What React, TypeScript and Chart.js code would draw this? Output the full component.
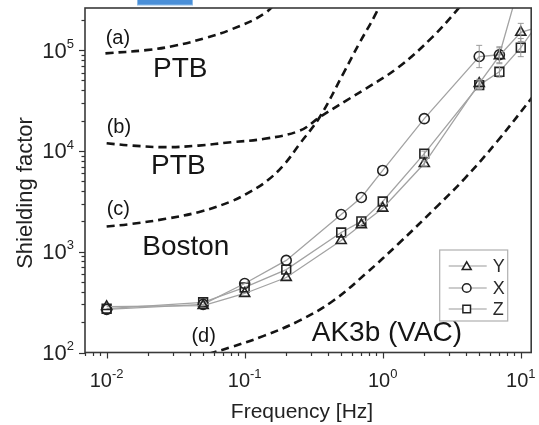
import React, { useEffect, useRef } from 'react';
import { Chart, registerables } from 'chart.js';

Chart.register(...registerables);

// ---- measured series (frequency in Hz, shielding factor) ----
const freqs = [0.01, 0.05, 0.1, 0.2, 0.5, 0.7, 1, 2, 5, 7, 10, 20];
const seriesY = [285, 292, 385, 555, 1290, 1850, 2700, 7500, 46700, 88000, 150000, 200000];
const seriesX = [268, 300, 484, 820, 2340, 3450, 6400, 20900, 86500, 90000, 500000, null];
const seriesZ = [272, 315, 442, 665, 1550, 2000, 3150, 9400, 45000, 61000, 106000, 400000];
// multiplicative error factors (0 = no error bar)
const errY = [0, 0, 0, 0, 0, 0, 0, 1.06, 1.1, 1.2, 1.23, 0];
const errX = [0, 0, 0, 0, 0, 0, 0, 0, 1.29, 1.2, 0, 0];
const errZ = [0, 0, 0, 0, 0, 0, 0, 1.06, 1.1, 1.13, 1.23, 0];

// ---- reference curves (dashed) ----
const curveAFreq = [0.0098, 0.0193, 0.0316, 0.0518, 0.0794, 0.139, 0.187];
const curveAVal = [93000, 100000, 111000, 132000, 160000, 231000, 350000];
const curveBFreq = [0.01, 0.0153, 0.0268, 0.0462, 0.0794, 0.139, 0.251, 0.349, 0.544, 0.756, 1.3, 2.28, 3.43, 3.9];
const curveBVal = [11900, 11300, 10900, 11300, 12200, 13200, 15900, 21600, 31600, 41600, 67700, 134000, 247000, 310000];
const curveCFreq = [0.01, 0.0153, 0.0268, 0.0462, 0.0794, 0.11, 0.146, 0.193, 0.251, 0.349, 0.518, 0.674, 0.891, 0.968];
const curveCVal = [1780, 1890, 2120, 2470, 3150, 3950, 5080, 7330, 11800, 21600, 58600, 116000, 230000, 310000];
const curveDFreq = [0.055, 0.0794, 0.139, 0.251, 0.44, 0.756, 1.3, 2.51, 3.92, 6.74, 12.5];
const curveDVal = [97, 113, 147, 208, 328, 608, 1200, 2870, 5320, 12400, 36000];

// ---- axes ----
const X_MIN = 0.00697;
const X_MAX = 11.9;
const Y_MIN = 100;
const Y_MAX = 262000;
const xTickExps = [-2, -1, 0, 1];
const yTickExps = [2, 3, 4, 5];
const xTitle = 'Frequency [Hz]';
const yTitle = 'Shielding factor';

// ---- annotations (anchored in data space: left edge, vertical middle) ----
const annotationTexts = ['(a)', 'PTB', '(b)', 'PTB', '(c)', 'Boston', '(d)', 'AK3b (VAC)'];
const annotationFreq = [0.00984, 0.0217, 0.01, 0.021, 0.01, 0.0181, 0.0411, 0.306];
const annotationValue = [131800, 64300, 17100, 7000, 2630, 1100, 144, 154];
const annotationSize = [20, 28, 20, 28, 20, 28, 20, 28];

const legendLabels = ['Y', 'X', 'Z'];
const legendStyles = ['triangle', 'circle', 'rect'];

const FONT = '"Liberation Sans", Arial, Helvetica, sans-serif';

function drawMarker(ctx: CanvasRenderingContext2D, style: string, x: number, y: number, r: number) {
  ctx.beginPath();
  if (style === 'triangle') {
    const h = Math.sin(Math.PI / 3) * r;
    ctx.moveTo(x, y - r);
    ctx.lineTo(x + h, y + r / 2);
    ctx.lineTo(x - h, y + r / 2);
    ctx.closePath();
  } else if (style === 'circle') {
    ctx.arc(x, y, r, 0, Math.PI * 2);
  } else {
    ctx.rect(x - r, y - r, 2 * r, 2 * r);
  }
  ctx.fill();
  ctx.stroke();
}

function drawPow(
  ctx: CanvasRenderingContext2D,
  exp: number,
  x: number,
  baseline: number,
  align: 'center' | 'right',
  size: number,
  supSize: number
) {
  const base = '10';
  const e = exp < 0 ? '-' + Math.abs(exp) : String(exp);
  ctx.font = `${size}px ${FONT}`;
  const wb = ctx.measureText(base).width;
  ctx.font = `${supSize}px ${FONT}`;
  const we = ctx.measureText(e).width;
  const total = wb + we;
  const start = align === 'center' ? x - total / 2 : x - total;
  ctx.textAlign = 'left';
  ctx.textBaseline = 'alphabetic';
  ctx.font = `${size}px ${FONT}`;
  ctx.fillText(base, start, baseline);
  ctx.font = `${supSize}px ${FONT}`;
  ctx.fillText(e, start + wb, baseline - size * 0.45);
}

const decorPlugin = {
  id: 'decor',
  afterDatasetsDraw(chart: any) {
    const ctx: CanvasRenderingContext2D = chart.ctx;
    const xs = chart.scales.x;
    const ys = chart.scales.y;
    const ca = chart.chartArea;
    // error bars
    ctx.save();
    ctx.beginPath();
    ctx.rect(ca.left, ca.top, ca.right - ca.left, ca.bottom - ca.top);
    ctx.clip();
    ctx.strokeStyle = '#9a9a9a';
    ctx.lineWidth = 1;
    const sets = [
      [seriesY, errY],
      [seriesX, errX],
      [seriesZ, errZ],
    ] as const;
    sets.forEach(([vals, errs]) => {
      vals.forEach((v, i) => {
        const f = errs[i];
        if (!v || !f) return;
        const px = xs.getPixelForValue(freqs[i]);
        const top = ys.getPixelForValue(v * f);
        const bot = ys.getPixelForValue(v / f);
        ctx.beginPath();
        ctx.moveTo(px, top);
        ctx.lineTo(px, bot);
        ctx.moveTo(px - 3, top);
        ctx.lineTo(px + 3, top);
        ctx.moveTo(px - 3, bot);
        ctx.lineTo(px + 3, bot);
        ctx.stroke();
      });
    });
    ctx.restore();
  },
  afterDraw(chart: any) {
    const ctx: CanvasRenderingContext2D = chart.ctx;
    const xs = chart.scales.x;
    const ys = chart.scales.y;
    const ca = chart.chartArea;
    ctx.save();

    // blue tab at the top
    ctx.fillStyle = '#4a8fd8';
    ctx.fillRect(137, 0, 56, 5);
    ctx.strokeStyle = '#8dbbe8';
    ctx.lineWidth = 1;
    ctx.strokeRect(137.5, -1, 55, 6);

    // frame
    ctx.strokeStyle = '#3a3a3a';
    ctx.lineWidth = 1.6;
    ctx.strokeRect(ca.left, ca.top, ca.right - ca.left, ca.bottom - ca.top);

    // ticks
    ctx.lineWidth = 1.2;
    ctx.strokeStyle = '#333';
    for (let e = -3; e <= 2; e++) {
      for (let m = 1; m <= 9; m++) {
        const v = m * Math.pow(10, e);
        if (v < X_MIN || v > X_MAX) continue;
        const px = Math.round(xs.getPixelForValue(v)) + 0.5;
        ctx.beginPath();
        ctx.moveTo(px, ca.bottom);
        ctx.lineTo(px, ca.bottom + (m === 1 ? 6 : 3.5));
        ctx.stroke();
      }
    }
    for (let e = 1; e <= 6; e++) {
      for (let m = 1; m <= 9; m++) {
        const v = m * Math.pow(10, e);
        if (v < Y_MIN || v > Y_MAX) continue;
        const py = Math.round(ys.getPixelForValue(v)) + 0.5;
        ctx.beginPath();
        ctx.moveTo(ca.left, py);
        ctx.lineTo(ca.left - (m === 1 ? 6 : 3.5), py);
        ctx.stroke();
      }
    }

    // tick labels
    ctx.fillStyle = '#222';
    xTickExps.forEach((e) => {
      const px = xs.getPixelForValue(Math.pow(10, e));
      drawPow(ctx, e, px, ca.bottom + 34.5, 'center', 20, 13);
    });
    yTickExps.forEach((e) => {
      const py = ys.getPixelForValue(Math.pow(10, e));
      drawPow(ctx, e, ca.left - 11, py + 7.5, 'right', 22, 13);
    });

    // axis titles
    ctx.fillStyle = '#222';
    ctx.font = `21px ${FONT}`;
    ctx.textAlign = 'center';
    ctx.textBaseline = 'alphabetic';
    ctx.fillText(xTitle, 302, 418);
    ctx.font = `22px ${FONT}`;
    ctx.save();
    ctx.translate(32, 193);
    ctx.rotate(-Math.PI / 2);
    ctx.fillText(yTitle, 0, 0);
    ctx.restore();

    // annotations
    ctx.fillStyle = '#151515';
    ctx.textAlign = 'left';
    ctx.textBaseline = 'middle';
    annotationTexts.forEach((t, i) => {
      ctx.font = `${annotationSize[i]}px ${FONT}`;
      ctx.fillText(t, xs.getPixelForValue(annotationFreq[i]), ys.getPixelForValue(annotationValue[i]));
    });

    // legend
    const bx = ca.right - 91.5;
    const by = ca.bottom - 102.5;
    ctx.fillStyle = '#ffffff';
    ctx.fillRect(bx, by, 68, 71);
    ctx.strokeStyle = '#b0b0b0';
    ctx.lineWidth = 1.2;
    ctx.strokeRect(bx, by, 68, 71);
    const rows = [16, 38, 59];
    legendLabels.forEach((lab, i) => {
      const y = by + rows[i];
      ctx.strokeStyle = '#999';
      ctx.lineWidth = 1.2;
      ctx.beginPath();
      ctx.moveTo(bx + 9, y);
      ctx.lineTo(bx + 47, y);
      ctx.stroke();
      ctx.fillStyle = '#ffffff';
      ctx.strokeStyle = '#222';
      ctx.lineWidth = 1.5;
      const st = legendStyles[i];
      drawMarker(ctx, st, bx + 27, y + (st === 'triangle' ? 1 : 0), st === 'rect' ? 3.8 : st === 'circle' ? 4.3 : 5.2);
      ctx.fillStyle = '#2a2a2a';
      ctx.font = `18px ${FONT}`;
      ctx.textAlign = 'left';
      ctx.textBaseline = 'middle';
      ctx.fillText(lab, bx + 53, y + 1);
    });

    ctx.restore();
  },
};

function pts(xsArr: number[], ysArr: (number | null)[]) {
  return xsArr.map((x, i) => ({ x, y: ysArr[i] }));
}

export default function App() {
  const ref = useRef<HTMLCanvasElement | null>(null);

  useEffect(() => {
    document.body.style.margin = '0';
    document.body.style.overflow = 'hidden';
    const canvas = ref.current;
    if (!canvas) return;

    const dashed = (xa: number[], ya: number[]) => ({
      type: 'line' as const,
      data: pts(xa, ya),
      borderColor: '#141414',
      borderWidth: 2.6,
      borderDash: [8, 5],
      pointRadius: 0,
      fill: false,
      tension: 0.4,
    });

    const series = (ya: (number | null)[], style: string, radius: number) => ({
      type: 'line' as const,
      data: pts(freqs, ya),
      borderColor: '#a3a3a3',
      borderWidth: 1.3,
      pointStyle: style,
      pointRadius: radius,
      pointBorderColor: '#222',
      pointBackgroundColor: 'rgba(255,255,255,0)',
      pointBorderWidth: 1.6,
      tension: 0,
      fill: false,
    });

    const chart = new Chart(canvas, {
      type: 'line',
      data: {
        datasets: [
          dashed(curveAFreq, curveAVal),
          dashed(curveBFreq, curveBVal),
          dashed(curveCFreq, curveCVal),
          dashed(curveDFreq, curveDVal),
          series(seriesY, 'triangle', 5.8),
          series(seriesX, 'circle', 5),
          series(seriesZ, 'rect', 6.2),
        ] as any,
      },
      options: {
        responsive: false,
        animation: false,
        layout: { padding: { left: 85, right: 1.5, top: 8, bottom: 72.5 } },
        plugins: { legend: { display: false }, tooltip: { enabled: false } },
        scales: {
          x: { type: 'logarithmic', min: X_MIN, max: X_MAX, display: false },
          y: { type: 'logarithmic', min: Y_MIN, max: Y_MAX, display: false },
        },
      },
      plugins: [decorPlugin],
    });
    return () => chart.destroy();
  }, []);

  return (
    <div style={{ width: 539, height: 425, background: '#fff' }}>
      <canvas ref={ref} width={539} height={425} />
    </div>
  );
}
